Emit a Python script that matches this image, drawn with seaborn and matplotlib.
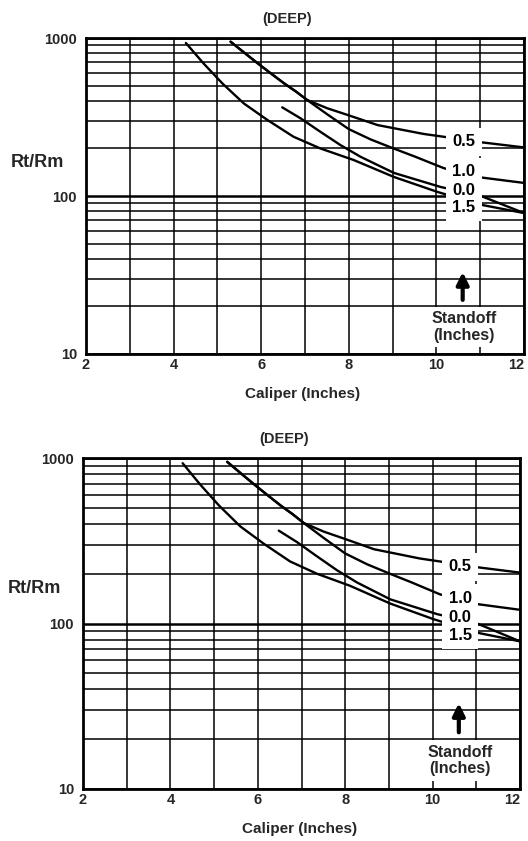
import numpy as np
import pandas as pd
import seaborn as sns
import matplotlib.pyplot as plt
from matplotlib.ticker import LogLocator, NullFormatter

sns.set_style('white')
plt.rcParams['font.family'] = ['Liberation Sans', 'DejaVu Sans']
plt.rcParams['font.weight'] = 'bold'

# standoff curves: caliper (inches) vs Rt/Rm
standoffs = ['0.5', '1.0', '0.0', '1.5']

caliper_05 = [5.30, 5.60, 5.91, 6.20, 6.52, 6.80, 7.05, 7.51, 7.97, 8.66, 9.71, 10.17, 10.95, 12.0]
ratio_05 = [948, 813, 695, 603, 517, 457, 405, 359, 326, 281, 247, 237, 220, 203]

caliper_10 = [5.30, 5.60, 5.91, 6.20, 6.52, 6.80, 7.05, 7.50, 8.00, 8.50, 9.00, 9.50, 10.17, 11.02, 12.0]
ratio_10 = [948, 813, 695, 603, 517, 457, 405, 330, 265, 228, 201, 178, 150, 131, 121]

caliper_00 = [6.48, 6.90, 7.35, 7.81, 8.27, 9.03, 10.10, 11.02, 12.0]
ratio_00 = [364, 310, 255, 210, 177, 140, 114, 100, 78]

caliper_15 = [4.28, 4.68, 5.11, 5.60, 6.14, 6.74, 7.35, 8.11, 9.03, 10.03, 11.02, 12.0]
ratio_15 = [930, 692, 517, 386, 303, 237, 200, 169, 132, 106, 88, 78]

# where the standoff labels sit on the curves
label_caliper = 10.63
label_ratio = [220, 142, 109, 85]

curves = pd.concat([
    pd.DataFrame({'standoff': s, 'caliper': c, 'ratio': r})
    for s, c, r in zip(standoffs,
                       [caliper_05, caliper_10, caliper_00, caliper_15],
                       [ratio_05, ratio_10, ratio_00, ratio_15])
], ignore_index=True)

fig = plt.figure(figsize=(5.28, 8.41), dpi=100)
ax_top = fig.add_axes([86/528, 1-354/841, 438/528, 316/841])
ax_bot = fig.add_axes([83/528, 1-789/841, 437/528, 331/841])


def draw_panel(ax):
    sns.lineplot(data=curves, x='caliper', y='ratio', units='standoff',
                 estimator=None, sort=False, color='black', lw=1.7,
                 ax=ax, legend=False)
    ax.set_yscale('log')
    ax.set_xlim(2, 12)
    ax.set_ylim(10, 1000)
    ax.set_axisbelow(True)

    ax.set_yticks([10, 100, 1000])
    ax.set_yticklabels(['10', '100', '1000'])
    ax.yaxis.set_minor_locator(LogLocator(base=10, subs=np.arange(2, 10)))
    ax.yaxis.set_minor_formatter(NullFormatter())
    ax.set_xticks([2, 4, 6, 8, 10, 12])
    ax.set_xticks([3, 5, 7, 9, 11], minor=True)

    ax.grid(which='major', axis='y', color='black', lw=1.8)
    ax.grid(which='minor', axis='y', color='black', lw=1.1)
    ax.grid(which='both', axis='x', color='black', lw=1.1)
    ax.tick_params(which='both', length=0, labelsize=10.5)
    ax.tick_params(axis='y', pad=6.5)
    ax.tick_params(axis='x', pad=3)
    for sp in ax.spines.values():
        sp.set_visible(True)
        sp.set_color('black')
        sp.set_linewidth(2)
    # last caliper label sits against the page edge
    ax.get_xticklabels()[-1].set_horizontalalignment('right')

    ax.set_xlabel('')
    ax.set_ylabel('')
    ax.annotate('Caliper (Inches)', xy=(0.495, 0), xycoords='axes fraction',
                xytext=(0, -29), textcoords='offset points',
                ha='center', va='center', fontsize=11, fontweight='bold')
    ax.annotate('(DEEP)', xy=(0.46, 1), xycoords='axes fraction',
                xytext=(0, 14), textcoords='offset points',
                ha='center', va='center', fontsize=10.5, fontweight='bold')
    ax.text(-0.11, 0.607, 'Rt/Rm', transform=ax.transAxes,
            ha='center', va='center', fontsize=13, fontweight='bold')

    # white gaps behind the labels first, then the labels on top
    for s, r in zip(standoffs, label_ratio):
        ax.text(label_caliper, r, s, ha='center', va='center', fontsize=12,
                fontweight='bold', color='white', zorder=4,
                bbox=dict(boxstyle='square,pad=0.4', fc='white', ec='none'))
    for s, r in zip(standoffs, label_ratio):
        ax.text(label_caliper, r, s, ha='center', va='center', fontsize=12,
                fontweight='bold', color='black', zorder=5)

    ax.text(10.63, 14.8, 'Standoff\n(Inches)', ha='center', va='center',
            fontsize=11.5, fontweight='bold', linespacing=1.1, zorder=4,
            bbox=dict(boxstyle='square,pad=0.3', fc='white', ec='none'))
    ax.annotate('', xy=(10.6, 33), xytext=(10.6, 22),
                arrowprops=dict(arrowstyle='-|>', color='black', lw=3,
                                mutation_scale=18, shrinkA=0, shrinkB=0),
                zorder=5)


draw_panel(ax_top)
draw_panel(ax_bot)

fig.savefig('out.png', dpi=100)
